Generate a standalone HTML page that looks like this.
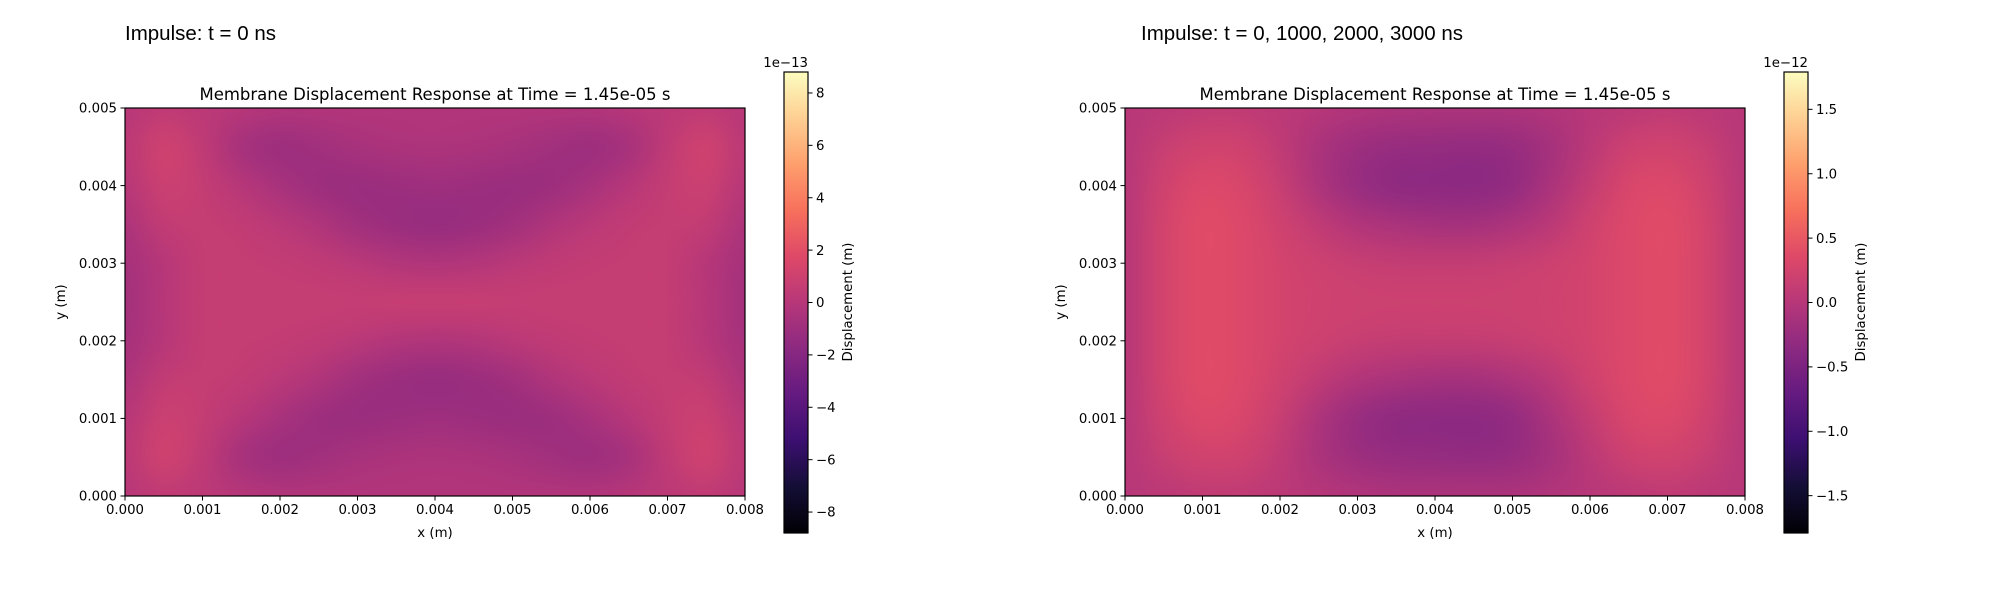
<!DOCTYPE html>
<html><head><meta charset="utf-8"><style>
html,body{margin:0;padding:0;background:#fff;}
#wrap{position:relative;width:2000px;height:600px;overflow:hidden;font-family:"DejaVu Sans",sans-serif;}
canvas{position:absolute;}
svg{position:absolute;left:0;top:0;}
</style></head><body>
<div id="wrap">
<canvas id="hm0"></canvas>
<canvas id="hm1"></canvas>
<svg id="svg" width="2000" height="600" xmlns="http://www.w3.org/2000/svg"></svg>
</div>
<script>
// ---- data ----
const xTicks = [0,0.001,0.002,0.003,0.004,0.005,0.006,0.007,0.008];
const xTickLabels = ["0.000","0.001","0.002","0.003","0.004","0.005","0.006","0.007","0.008"];
const yTicks = [0,0.001,0.002,0.003,0.004,0.005];
const yTickLabels = ["0.000","0.001","0.002","0.003","0.004","0.005"];
const suptitles = ["Impulse: t = 0 ns","Impulse: t = 0, 1000, 2000, 3000 ns"];
const cbarTicks0 = [-8,-6,-4,-2,0,2,4,6,8];
const cbarTickLabels0 = ["\u22128","\u22126","\u22124","\u22122","0","2","4","6","8"];
const cbarTicks1 = [-1.5,-1.0,-0.5,0,0.5,1.0,1.5];
const cbarTickLabels1 = ["\u22121.5","\u22121.0","\u22120.5","0.0","0.5","1.0","1.5"];
const vmax0 = 8.8, vmax1 = 1.79;
// grid rows: y = 0.005 (top) ... 0 (bottom), cols x = 0 ... 0.008 step 0.0005 (units of 1e-13)
const grid0 = [
[0,0.4,0.2,0,-0.2,-0.2,-0.2,-0.2,-0.2,-0.2,-0.2,-0.2,-0.2,0,0.2,0.4,0],
[0.2,1.1,0.4,-0.7,-1.1,-0.9,-0.6,-0.45,-0.4,-0.45,-0.6,-0.9,-1.1,-0.7,0.4,1.1,0.2],
[0,0.9,0.6,0,-0.6,-1.1,-1.2,-1.1,-1.0,-1.1,-1.2,-1.1,-0.6,0,0.6,0.9,0],
[-0.4,0.5,0.6,0.5,0.15,-0.3,-0.9,-1.2,-1.35,-1.2,-0.9,-0.3,0.15,0.5,0.6,0.5,-0.4],
[-0.7,0,0.6,0.6,0.55,0.4,0.15,-0.15,-0.3,-0.15,0.15,0.4,0.55,0.6,0.6,0,-0.7],
[-0.8,0,0.6,0.6,0.6,0.65,0.65,0.7,0.7,0.7,0.65,0.65,0.6,0.6,0.6,0,-0.8],
[-0.7,0,0.6,0.6,0.55,0.4,0.15,-0.15,-0.3,-0.15,0.15,0.4,0.55,0.6,0.6,0,-0.7],
[-0.4,0.5,0.6,0.5,0.15,-0.3,-0.9,-1.2,-1.35,-1.2,-0.9,-0.3,0.15,0.5,0.6,0.5,-0.4],
[0,0.9,0.6,0,-0.6,-1.1,-1.2,-1.1,-1.0,-1.1,-1.2,-1.1,-0.6,0,0.6,0.9,0],
[0.2,1.1,0.4,-0.7,-1.1,-0.9,-0.6,-0.45,-0.4,-0.45,-0.6,-0.9,-1.1,-0.7,0.4,1.1,0.2],
[0,0.4,0.2,0,-0.2,-0.2,-0.2,-0.2,-0.2,-0.2,-0.2,-0.2,-0.2,0,0.2,0.4,0]
];
// units of 1e-12
const grid1 = [
[0,0.04,0.08,0.08,0.04,0,-0.04,-0.08,-0.08,-0.08,-0.08,-0.04,0,0.04,0.08,0.04,0],
[0,0.15,0.23,0.22,0.08,-0.1,-0.22,-0.27,-0.28,-0.3,-0.27,-0.15,0.04,0.2,0.23,0.15,0],
[0,0.22,0.34,0.3,0.15,-0.08,-0.26,-0.34,-0.35,-0.36,-0.3,-0.1,0.12,0.3,0.34,0.22,0],
[0,0.26,0.38,0.34,0.22,0.08,-0.04,-0.11,-0.15,-0.15,-0.08,0.04,0.22,0.34,0.38,0.26,0],
[0,0.26,0.38,0.34,0.26,0.19,0.15,0.12,0.12,0.12,0.15,0.19,0.26,0.34,0.38,0.26,0],
[0,0.26,0.38,0.34,0.26,0.22,0.19,0.19,0.19,0.19,0.19,0.22,0.26,0.34,0.38,0.26,0],
[0,0.26,0.38,0.34,0.26,0.19,0.15,0.12,0.12,0.12,0.15,0.19,0.26,0.34,0.38,0.26,0],
[0,0.26,0.38,0.34,0.22,0.08,-0.04,-0.11,-0.15,-0.15,-0.08,0.04,0.22,0.34,0.38,0.26,0],
[0,0.22,0.34,0.3,0.15,-0.08,-0.26,-0.34,-0.35,-0.36,-0.3,-0.1,0.12,0.3,0.34,0.22,0],
[0,0.15,0.23,0.22,0.08,-0.1,-0.22,-0.27,-0.28,-0.3,-0.27,-0.15,0.04,0.2,0.23,0.15,0],
[0,0.04,0.08,0.08,0.04,0,-0.04,-0.08,-0.08,-0.08,-0.08,-0.04,0,0.04,0.08,0.04,0]
];
// ---- magma colormap ----
const magma = [[0,0,4],[20,14,54],[59,15,112],[100,26,128],[140,41,129],[183,55,121],[222,73,104],[247,112,92],[254,159,109],[254,207,146],[252,253,191]];
function cmap(t){t=Math.max(0,Math.min(1,t));const f=t*10;const i=Math.min(9,Math.floor(f));const u=f-i;
 const a=magma[i],b=magma[i+1];return [0,1,2].map(k=>Math.round(a[k]+(b[k]-a[k])*u));}

const svg=document.getElementById('svg');
const NS="http://www.w3.org/2000/svg";
function el(tag,attrs,text){const e=document.createElementNS(NS,tag);for(const k in attrs)e.setAttribute(k,attrs[k]);if(text!==undefined)e.textContent=text;svg.appendChild(e);return e;}

function panel(idx,off,grid,vmax,cT,cL,expo){
 const L=125+off,R=745+off,T=108,B=496;
 const xs=v=>L+v/0.008*(R-L);
 const ys=v=>B-v/0.005*(B-T);
 const cv=document.getElementById('hm'+idx);
 const rows=grid.length,cols=grid[0].length;
 const small=document.createElement('canvas');small.width=cols;small.height=rows;
 const sc=small.getContext('2d');const img=sc.createImageData(cols,rows);
 for(let r=0;r<rows;r++)for(let c=0;c<cols;c++){const col=cmap((grid[r][c]+vmax)/(2*vmax));const p=(r*cols+c)*4;
  img.data[p]=col[0];img.data[p+1]=col[1];img.data[p+2]=col[2];img.data[p+3]=255;}
 sc.putImageData(img,0,0);
 cv.width=R-L;cv.height=B-T;cv.style.left=L+'px';cv.style.top=T+'px';
 const ctx=cv.getContext('2d');ctx.imageSmoothingEnabled=true;ctx.imageSmoothingQuality='high';
 const cw=(R-L)/(cols-1),ch=(B-T)/(rows-1);
 ctx.drawImage(small,0,0,cols,rows,-cw/2,-ch/2,cols*cw,rows*ch);
 let e=el('rect',{x:L,y:T,width:R-L,height:B-T,fill:'none',stroke:'#000','stroke-width':1.2});
 
 xTicks.forEach((v,i)=>{const x=xs(v);
  let t=el('line',{x1:x,y1:B,x2:x,y2:B+4.5,stroke:'#000','stroke-width':1});
  
  let lb=el('text',{x:x,y:B+18,'font-size':13.3,'text-anchor':'middle'},xTickLabels[i]);
  });
 yTicks.forEach((v,i)=>{const y=ys(v);
  let t=el('line',{x1:L-4.5,y1:y,x2:L,y2:y,stroke:'#000','stroke-width':1});
  
  let lb=el('text',{x:L-8,y:y+4.7,'font-size':13.3,'text-anchor':'end'},yTickLabels[i]);
  });
 e=el('text',{x:(L+R)/2,y:537,'font-size':13.3,'text-anchor':'middle'},'x (m)');
 
 e=el('text',{x:0,y:0,'font-size':13.3,'text-anchor':'middle',transform:`translate(${65+off},302) rotate(-90)`},'y (m)');
 
 e=el('text',{x:(L+R)/2,y:100,'font-size':16.5,'text-anchor':'middle'},'Membrane Displacement Response at Time = 1.45e-05 s');
 
 e=el('text',{x:idx?1141:125,y:40,'font-size':20.5,'font-family':'Liberation Sans, sans-serif'},suptitles[idx]);
 
 const CL=784+off,CR=808+off,CT=72,CB=533;
 const cs=v=>CB-(v+vmax)/(2*vmax)*(CB-CT);
 let defs=el('defs',{});const g=document.createElementNS(NS,'linearGradient');
 g.setAttribute('id','mg'+idx);g.setAttribute('x1',0);g.setAttribute('y1',1);g.setAttribute('x2',0);g.setAttribute('y2',0);
 magma.forEach((c,i)=>{const s=document.createElementNS(NS,'stop');s.setAttribute('offset',i/10);s.setAttribute('stop-color',`rgb(${c})`);g.appendChild(s);});
 defs.appendChild(g);
 e=el('rect',{x:CL,y:CT,width:CR-CL,height:CB-CT,fill:`url(#mg${idx})`,stroke:'#000','stroke-width':1.2});
 
 cT.forEach((v,i)=>{const y=cs(v);
  let t=el('line',{x1:CR,y1:y,x2:CR+4.5,y2:y,stroke:'#000','stroke-width':1});
  
  let lb=el('text',{x:CR+8,y:y+4.7,'font-size':13.3},cL[i]);
  });
 e=el('text',{x:CR,y:67,'font-size':13.3,'text-anchor':'end'},expo);
 
 e=el('text',{x:0,y:0,'font-size':13.3,'text-anchor':'middle',transform:`translate(${(idx?1865:852)},302) rotate(-90)`},'Displacement (m)');
 
}
panel(0,0,grid0,vmax0,cbarTicks0,cbarTickLabels0,'1e\u221213');
panel(1,1000,grid1,vmax1,cbarTicks1,cbarTickLabels1,'1e\u221212');
</script>
</body></html>
